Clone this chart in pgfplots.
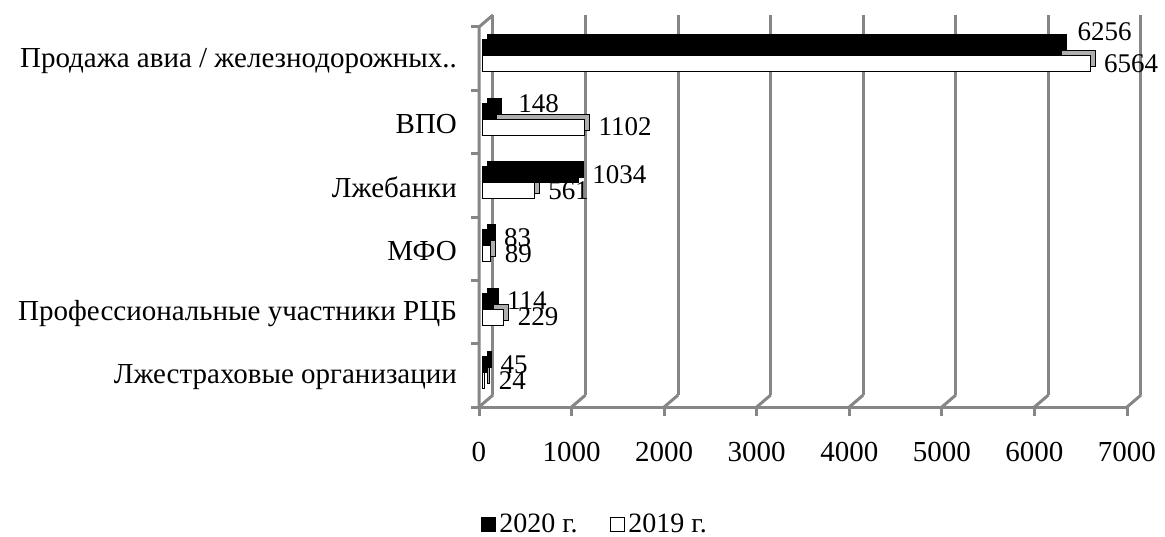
\documentclass[border=0pt]{standalone}
\usepackage{fontspec}
\setmainfont{Liberation Serif}
\usepackage{pgfplots}
\usepackage{pgfplotstable}
\pgfplotsset{compat=1.18}
\definecolor{gridgray}{RGB}{134,134,134}
\definecolor{sidegray}{RGB}{175,175,175}

% y: 0 = bottom category; dx/dy: label nudges (pt) for 2020 values
\pgfplotstableread{
y  v2020 v2019 dx dy
0  45    24    0  0
1  114   229   0  0
2  83    89    0  0
3  1034  561   0  0
4  148   1102  4  3.5
5  6256  6564  1  8
}\fraud

\begin{document}
\begin{tikzpicture}[font=\fontsize{14.5pt}{17pt}\selectfont]
% walls, floor edge and ticks (front plane of the 3D frame)
\begin{scope}[gridgray, line width=1.5pt]
  \draw (0,0) -- (324pt,0);
  \foreach \k in {0,...,7} {
    \draw ({\k*324pt/7},0) -- ++(7pt,6pt);
    \draw ({\k*324pt/7},0) -- ++(0,-4.5pt);
  }
  \draw (0,0) -- (0,190pt) -- ++(7pt,6pt);
  \foreach \j in {0,...,6} \draw (0,{\j*190pt/6}) -- ++(-4pt,0);
\end{scope}
\begin{axis}[
  scale only axis, width=324pt, height=190pt,
  xmin=0, xmax=7000, ymin=-0.5, ymax=5.5,
  xtick={0,1000,...,7000},
  ytick={0,...,5},
  yticklabels={Лжестраховые организации, Профессиональные участники РЦБ, МФО, Лжебанки, ВПО, Продажа авиа / железнодорожных..},
  axis line style={draw=none},
  major tick length=0pt,
  xmajorgrids,
  major grid style={gridgray, line width=1.5pt, xshift=7pt, yshift=6pt},
  /pgf/number format/assume math mode=true,
  /pgf/number format/1000 sep={},
  scaled x ticks=false,
  tick label style={font=\fontsize{14.5pt}{17pt}\selectfont},
  x tick label style={yshift=-14pt},
  y tick label style={anchor=east, xshift=-7.5pt, yshift=-1pt},
  xbar, bar width=8pt,
  nodes near coords,
  every node near coord/.append style={anchor=west, text=black, xshift=3.5pt,
    font=\fontsize{13.5pt}{16pt}\selectfont},
  legend style={at={(0.18,-0.31)}, anchor=center, draw=none, fill=none,
    legend columns=2, /tikz/every even column/.append style={column sep=14pt},
    font=\fontsize{14pt}{16pt}\selectfont},
  legend image code/.code={\draw[#1] (0pt,-3.5pt) rectangle (7pt,3.5pt);},
]
% 2019: depth face, then front face
\addplot[forget plot, draw=black, fill=sidegray, bar shift=0pt, xshift=4.25pt, nodes near coords={}] table[x=v2019, y=y] {\fraud};
\addplot[forget plot, draw=black, fill=white, bar shift=-2.5pt, xshift=1.75pt] table[x=v2019, y=y] {\fraud};
% 2020: depth face, then front face
\addplot[forget plot, draw=black, fill=black, bar shift=8pt, xshift=4.25pt, nodes near coords={}] table[x=v2020, y=y] {\fraud};
\addplot[forget plot, draw=black, fill=black, bar shift=5.5pt, xshift=1.75pt,
  visualization depends on={\thisrow{dx} \as \labdx},
  visualization depends on={\thisrow{dy} \as \labdy},
  every node near coord/.append style={xshift=\labdx pt, yshift=\labdy pt}]
  table[x=v2020, y=y] {\fraud};
\addlegendimage{draw=black, fill=black}
\addlegendentry{2020 г.}
\addlegendimage{draw=black, fill=white}
\addlegendentry{2019 г.}
\end{axis}
\pgfresetboundingbox
\useasboundingbox (-239.5pt,-64.5pt) rectangle (343pt,203.5pt);
\end{tikzpicture}
\end{document}
